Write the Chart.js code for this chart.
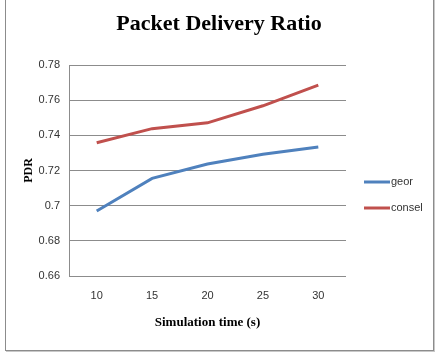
<!DOCTYPE html>
<html>
<head>
<meta charset="utf-8">
<script src="https://cdn.jsdelivr.net/npm/chart.js@4/dist/chart.umd.min.js"></script>
<style>
  body { margin: 0; background: #fff; }
  #wrap { position: relative; width: 440px; height: 358px; }
  #frame { position: absolute; left: 5px; top: -2px; width: 427px; height: 351px; border: 1px solid #8c8c8c; box-shadow: 1px 1px 0 #c8c8c8; }
  canvas { position: absolute; left: 0; top: 0; }
</style>
</head>
<body>
<div id="wrap">
  <div id="frame"></div>
  <canvas id="myChart" width="440" height="358"></canvas>
</div>
<script>
// data
const times = ['10', '15', '20', '25', '30'];
const geor = [0.697, 0.7155, 0.7237, 0.7292, 0.7334];
const consel = [0.7358, 0.7438, 0.7471, 0.7568, 0.7686];
const yTicks = [0.66, 0.68, 0.7, 0.72, 0.74, 0.76, 0.78];
const chartTitle = 'Packet Delivery Ratio';

const tickFont = { family: 'Liberation Sans', size: 11 };

// title centred on the whole frame + legend at the right, like the spreadsheet one
const sideLegend = {
    id: 'sideLegend',
    afterDraw(chart) {
        const ctx = chart.ctx;
        ctx.save();
        ctx.fillStyle = '#000';
        ctx.font = 'bold 22px "Liberation Serif"';
        ctx.textAlign = 'center';
        ctx.textBaseline = 'middle';
        ctx.fillText(chartTitle, 219, 24);
        ctx.textAlign = 'left';
        chart.data.datasets.forEach((ds, i) => {
            const y = 182 + i * 26;
            ctx.strokeStyle = ds.borderColor;
            ctx.lineWidth = 3;
            ctx.beginPath();
            ctx.moveTo(364, y);
            ctx.lineTo(390, y);
            ctx.stroke();
            ctx.fillStyle = '#333';
            ctx.font = '11px "Liberation Sans"';
            ctx.fillText(ds.label, 391, y);
        });
        ctx.restore();
    }
};

const ctx = document.getElementById('myChart').getContext('2d');
const myChart = new Chart(ctx, {
    type: 'line',
    data: {
        labels: times,
        datasets: [{
            label: 'geor',
            data: geor,
            borderColor: '#4f81bd',
            borderWidth: 3,
            pointRadius: 0,
            tension: 0
        }, {
            label: 'consel',
            data: consel,
            borderColor: '#c0504d',
            borderWidth: 3,
            pointRadius: 0,
            tension: 0
        }]
    },
    options: {
        responsive: false,
        animation: false,
        layout: { padding: { left: 22, right: 94, top: 65, bottom: 28 } },
        plugins: {
            legend: { display: false },
            tooltip: { enabled: false },
            title: { display: false }
        },
        scales: {
            x: {
                offset: true,
                grid: { display: false, drawTicks: false },
                border: { display: false },
                ticks: { color: '#333', font: tickFont, padding: 13 },
                title: {
                    display: true,
                    text: 'Simulation time (s)',
                    color: '#000',
                    font: { family: 'Liberation Serif', size: 13, weight: 'bold' },
                    padding: 0
                },
                afterFit: s => { s.height = 54; }
            },
            y: {
                min: 0.66,
                max: 0.78,
                afterBuildTicks: s => { s.ticks = yTicks.map(v => ({ value: v })); },
                grid: { color: '#8c8c8c', drawTicks: false },
                border: { display: true, color: '#8c8c8c' },
                ticks: {
                    color: '#333',
                    font: tickFont,
                    padding: 9,
                    callback: v => String(+v.toFixed(2))
                },
                title: {
                    display: true,
                    text: 'PDR',
                    color: '#000',
                    font: { family: 'Liberation Serif', size: 12, weight: 'bold' },
                    padding: 0
                },
                afterFit: s => { s.width = 47; }
            }
        }
    },
    plugins: [sideLegend]
});
</script>
</body>
</html>
